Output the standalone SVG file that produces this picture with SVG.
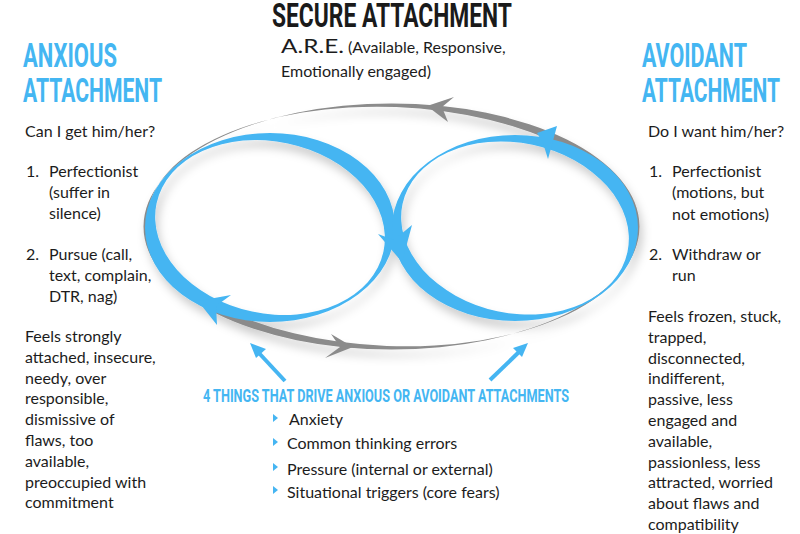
<svg xmlns="http://www.w3.org/2000/svg" width="800" height="534" viewBox="0 0 800 534">
<defs>
<style>
.body{font-family:Lato,"Noto Sans",sans-serif;fill:#1c1c1c}
.cond{font-family:Roboto,"Liberation Sans",sans-serif;font-weight:700;fill:#44b6f2}
.blue{fill:#45b5f2}
.gray{fill:#8b8b8b}
</style>
<filter id="sh" x="-10%" y="-10%" width="120%" height="130%">
<feDropShadow dx="3" dy="7" stdDeviation="5" flood-color="#000" flood-opacity="0.2"/>
</filter>
</defs>
<rect width="800" height="534" fill="#fff"/>

<g id="title">
<text x="272" y="27" font-family="Roboto,'Liberation Sans',sans-serif" font-weight="700" font-size="34" fill="#1a1a1a" textLength="240" lengthAdjust="spacingAndGlyphs">SECURE ATTACHMENT</text>
<text x="281" y="53" class="body" font-size="19.5" textLength="63" lengthAdjust="spacingAndGlyphs">A.R.E.</text>
<text x="348" y="53" class="body" font-size="16">(Available, Responsive,</text>
<text x="281" y="77" class="body" font-size="16">Emotionally engaged)</text>
</g>

<g id="loops" filter="url(#sh)">
<path class="gray" fill-rule="evenodd" d="M639.5 226.5A248 123 0 1 0 143.5 226.5A248 123 0 1 0 639.5 226.5Z M635.32 235.87A244 119.5 2.2 1 0 147.68 217.13A244 119.5 2.2 1 0 635.32 235.87Z"/>
<path class="blue" fill-rule="evenodd" d="M395 227.5A125 94.5 0 1 0 145 227.5A125 94.5 0 1 0 395 227.5Z M383.47 251.62A116 86 12 1 0 156.53 203.38A116 86 12 1 0 383.47 251.62Z"/>
<path class="blue" fill-rule="evenodd" d="M638 228A123 93 0 1 0 392 228A123 93 0 1 0 638 228Z M627.49 251.91A115 85 12 1 0 402.51 204.09A115 85 12 1 0 627.49 251.91Z"/>
</g>

<g id="connectors">
<polygon class="gray" points="427,106 454,97 442,107 448,122"/>
<polygon class="gray" points="353,347 331,334 340,347 325,358"/>
<polygon class="blue" points="402,262 378,234 394,240 412,225"/>
<polygon class="blue" points="198,301 231,295 216,306 217,325"/>
<polygon class="blue" points="557,126 537,133 543,143 548,159"/>
<line x1="285" y1="381" x2="258" y2="352" stroke="#45b5f2" stroke-width="4"/>
<polygon class="blue" points="250,343 266,349 256,358"/>
<line x1="490" y1="380" x2="520" y2="351" stroke="#45b5f2" stroke-width="4"/>
<polygon class="blue" points="528,343 513,348 522,357"/>
</g>

<g id="anxious">
<text x="23" y="67" class="cond" font-size="33" textLength="94" lengthAdjust="spacingAndGlyphs">ANXIOUS</text>
<text x="23" y="102" class="cond" font-size="33" textLength="139" lengthAdjust="spacingAndGlyphs">ATTACHMENT</text>
<text class="body" font-size="16">
<tspan x="25" y="137">Can I get him/her?</tspan>
<tspan x="26" y="177">1.</tspan><tspan x="49" y="177">Perfectionist</tspan>
<tspan x="49" y="198">(suffer in</tspan>
<tspan x="49" y="219">silence)</tspan>
<tspan x="26" y="260">2.</tspan><tspan x="49" y="260">Pursue (call,</tspan>
<tspan x="49" y="281">text, complain,</tspan>
<tspan x="49" y="302">DTR, nag)</tspan>
<tspan x="25" y="342">Feels strongly</tspan>
<tspan x="25" y="362.8">attached, insecure,</tspan>
<tspan x="25" y="383.6">needy, over</tspan>
<tspan x="25" y="404.4">responsible,</tspan>
<tspan x="25" y="425.2">dismissive of</tspan>
<tspan x="25" y="446">flaws, too</tspan>
<tspan x="25" y="466.8">available,</tspan>
<tspan x="25" y="487.6">preoccupied with</tspan>
<tspan x="25" y="508.4">commitment</tspan>
</text>
</g>

<g id="avoidant">
<text x="642" y="67" class="cond" font-size="33" textLength="105" lengthAdjust="spacingAndGlyphs">AVOIDANT</text>
<text x="642" y="102" class="cond" font-size="33" textLength="138" lengthAdjust="spacingAndGlyphs">ATTACHMENT</text>
<text class="body" font-size="16">
<tspan x="648" y="137">Do I want him/her?</tspan>
<tspan x="649" y="177">1.</tspan><tspan x="672" y="177">Perfectionist</tspan>
<tspan x="672" y="198">(motions, but</tspan>
<tspan x="672" y="220">not emotions)</tspan>
<tspan x="649" y="260">2.</tspan><tspan x="672" y="260">Withdraw or</tspan>
<tspan x="672" y="281">run</tspan>
<tspan x="648" y="322">Feels frozen, stuck,</tspan>
<tspan x="648" y="342.8">trapped,</tspan>
<tspan x="648" y="363.6">disconnected,</tspan>
<tspan x="648" y="384.4">indifferent,</tspan>
<tspan x="648" y="405.2">passive, less</tspan>
<tspan x="648" y="426">engaged and</tspan>
<tspan x="648" y="446.8">available,</tspan>
<tspan x="648" y="467.6">passionless, less</tspan>
<tspan x="648" y="488.4">attracted, worried</tspan>
<tspan x="648" y="509.2">about flaws and</tspan>
<tspan x="648" y="530">compatibility</tspan>
</text>
</g>

<g id="drivers">
<text x="203" y="402" class="cond" font-size="19" textLength="366" lengthAdjust="spacingAndGlyphs">4 THINGS THAT DRIVE ANXIOUS OR AVOIDANT ATTACHMENTS</text>
<polygon class="blue" points="273,414 278,418 273,422"/>
<polygon class="blue" points="273,438 278,442 273,446"/>
<polygon class="blue" points="273,463 278,467 273,471"/>
<polygon class="blue" points="273,486 278,490 273,494"/>
<text class="body" font-size="16">
<tspan x="289" y="425">Anxiety</tspan>
<tspan x="287" y="449">Common thinking errors</tspan>
<tspan x="287" y="475">Pressure (internal or external)</tspan>
<tspan x="287" y="498">Situational triggers (core fears)</tspan>
</text>
</g>
</svg>
